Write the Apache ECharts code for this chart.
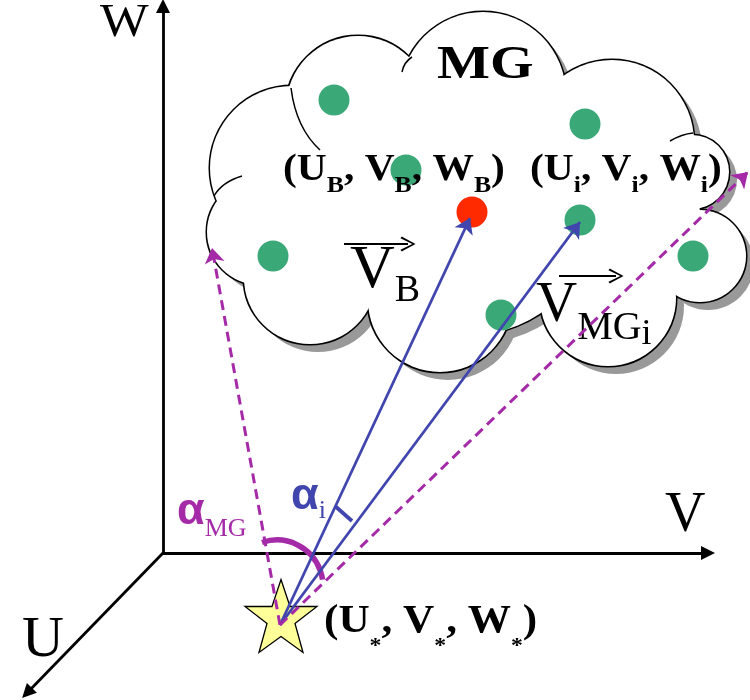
<!DOCTYPE html>
<html><head><meta charset="utf-8">
<script src="https://cdn.jsdelivr.net/npm/echarts@6/dist/echarts.min.js"></script>
<style>html,body{margin:0;padding:0;background:#fff}#c{width:750px;height:700px}</style>
</head><body><div id="c"></div>
<script>
// ---- diagram data (diagram units = pixels of the 750x700 picture, y downward) ----
const axisOrigin = [163, 553];
const axisEnds = [[163, 6], [708, 553], [27, 693]];           // W, V, U
const cloudBumps = [                                          // [cx, cy, r]
  [358,108,72],[483,95,83],[612,142,82],[692,172,37],[700,256,46],
  [608,298,68],[440,300,72],[310,278,66],[260,232,53],[292,168,82],
  [470,210,125],[600,215,100],[340,210,90]
];
const cloudStubs = [                                          // inner arc stubs: [x1,y1, cpx,cpy, x2,y2]
  [291,88, 296,128, 320,150],
  [214,196, 222,182, 242,176],
  [412,57, 404,62, 402,72],
  [693,133, 682,134, 670,141]
];
const memberPoints = [[334,100],[585,124],[406,170],[273,256],[580,220],[501,315],[693,256]];
const bestPoint = [[472,212]];
const userPoint = [[281,616]];
const rayOrigin = [280,625];
const vectorEnds = [[470,218],[580,222]];
const boundEnds = [[212,248],[748,172]];
const alphaMGArc = [[277,586,46,-109,-8]];                    // cx, cy, r, startDeg, endDeg
const alphaITick = [[335,506],[352,521]];
const overArrows = [[[344,244],[408,244]], [[559,276],[616,276]]];
// text anchors: [left x, baseline y]
const textAnchors = [[100,40],[665,535],[22,660],[437,82],[283,183],[530,183],[350,292],[536,325],[177,527],[291,512],[324,635]];

// ---- styles ----
const SERIF = '"Liberation Serif","Times New Roman",serif';
const SANS = '"Liberation Sans",Arial,sans-serif';
const MAGENTA = '#A52AA8', BLUE = '#4146AE', GREEN = '#3BA878', RED = '#FF2A00';

const textSpecs = [
  {sx:1.12, tokens:[{t:'W', s:46}]},
  {tokens:[{t:'V', s:56}]},
  {tokens:[{t:'U', s:58}]},
  {sx:1.22, tokens:[{t:'MG', s:46, w:'bold'}]},
  {sx:1.12, tokens:[{t:'(U',s:37,w:'bold'},{t:'B',s:23,w:'bold',d:11},{t:', V',s:37,w:'bold'},{t:'B',s:23,w:'bold',d:11},{t:', W',s:37,w:'bold'},{t:'B',s:23,w:'bold',d:11},{t:')',s:37,w:'bold'}]},
  {sx:1.12, tokens:[{t:'(U',s:37,w:'bold'},{t:'i',s:23,w:'bold',d:11},{t:', V',s:37,w:'bold'},{t:'i',s:23,w:'bold',d:11},{t:', W',s:37,w:'bold'},{t:'i',s:23,w:'bold',d:11},{t:')',s:37,w:'bold'}]},
  {tokens:[{t:'V',s:62},{t:'B',s:38,d:12}]},
  {tokens:[{t:'V',s:57},{t:'MG',s:40,d:17},{t:'i',s:36,d:22}]},
  {tokens:[{t:'α',s:45,w:'bold',f:SANS,c:MAGENTA},{t:'MG',s:26,d:11,c:MAGENTA}]},
  {tokens:[{t:'α',s:45,w:'bold',f:SANS,c:BLUE},{t:'i',s:26,d:8,c:BLUE}]},
  {sx:1.08, tokens:[{t:'(U',s:40,w:'bold'},{t:'*',s:22,w:'bold',d:19},{t:', V',s:40,w:'bold'},{t:'*',s:22,w:'bold',d:19},{t:', W',s:40,w:'bold'},{t:'*',s:22,w:'bold',d:19},{t:')',s:40,w:'bold'}]}
];

function buildRich(spec) {
  let B = 0;
  spec.tokens.forEach(k => { B = Math.max(B, 0.84 * k.s - (k.d || 0)); });
  const rich = {}; let text = '';
  spec.tokens.forEach((k, i) => {
    const p = B + (k.d || 0) - 0.84 * k.s;
    const col = k.c || '#000';
    rich['k' + i] = {fontSize:k.s, lineHeight:k.s, fontWeight:k.w || 'normal', fontFamily:k.f || SERIF,
      fill:col, color:col, verticalAlign:'top', padding:[p,0,0,0]};
    text += '{k' + i + '|' + k.t + '}';
  });
  return {text, rich, B};
}
const builtTexts = textSpecs.map(buildRich);

function circleSeries(offset, fill, stroke, lw) {
  return {
    type:'custom', coordinateSystem:'cartesian2d', clip:false, silent:true, z:2,
    data: cloudBumps,
    renderItem: (params, api) => {
      const c = api.coord([api.value(0), api.value(1)]);
      const r = api.size([api.value(2), 0])[0];
      return {type:'circle', shape:{cx:c[0] + offset, cy:c[1] + offset, r:r},
        style:{fill:fill, stroke:stroke, lineWidth:lw}};
    }
  };
}
const seg = (a, b) => ({coords:[a, b]});
const starPath = 'path://M36,0 L45,27 L72,27 L50,44 L58,73 L36,57 L14,73 L22,44 L0,27 L27,27 Z';
const chevron = 'path://M6,0 L12,12 L10.6,13 L6,2.8 L1.4,13 L0,12 Z';

const chart = echarts.init(document.getElementById('c'), null, {renderer:'canvas'});
chart.setOption({
  animation:false,
  backgroundColor:'#fff',
  grid:{left:0, right:0, top:0, bottom:0},
  xAxis:{type:'value', min:0, max:750, show:false},
  yAxis:{type:'value', min:0, max:700, inverse:true, show:false},
  series:[
    // axes
    {type:'lines', coordinateSystem:'cartesian2d', silent:true, z:1,
      symbol:['none','triangle'], symbolSize:14, symbolOffset:[0,7],
      lineStyle:{color:'#000', width:2.8, opacity:1},
      data: axisEnds.map(e => seg(axisOrigin, e))},
    // cloud: shadow, outline, fill
    circleSeries(8, '#999999', null, 0),
    circleSeries(0, '#fff', '#000', 3),
    circleSeries(0, '#fff', null, 0),
    {type:'custom', coordinateSystem:'cartesian2d', clip:false, silent:true, z:2,
      data: cloudStubs,
      renderItem: (params, api) => {
        const a = api.coord([api.value(0), api.value(1)]);
        const c = api.coord([api.value(2), api.value(3)]);
        const b = api.coord([api.value(4), api.value(5)]);
        return {type:'bezierCurve', shape:{x1:a[0], y1:a[1], cpx1:c[0], cpy1:c[1], x2:b[0], y2:b[1]},
          style:{stroke:'#000', lineWidth:1.5, fill:null}};
      }},
    // member points
    {type:'scatter', z:3, silent:true, symbol:'circle', symbolSize:31, itemStyle:{color:GREEN, opacity:1}, data:memberPoints},
    {type:'scatter', z:3, silent:true, symbol:'circle', symbolSize:31, itemStyle:{color:RED, opacity:1}, data:bestPoint},
    // star
    {type:'scatter', z:3, silent:true, symbol:starPath, symbolSize:[72,73],
      itemStyle:{color:'#FFFF99', borderColor:'#000', borderWidth:1.3, opacity:1}, data:userPoint},
    // texts
    {type:'custom', coordinateSystem:'cartesian2d', clip:false, silent:true, z:4,
      data: textAnchors,
      renderItem: (params, api) => {
        const i = params.dataIndex;
        const L = builtTexts[i];
        const pt = api.coord([api.value(0), api.value(1)]);
        return {type:'text', x:pt[0], y:pt[1] - L.B, scaleX:textSpecs[i].sx || 1, scaleY:1,
          style:{text:L.text, rich:L.rich, align:'left', verticalAlign:'top', textAlign:'left', textVerticalAlign:'top'}};
      }},
    // alpha MG arc
    {type:'custom', coordinateSystem:'cartesian2d', clip:false, silent:true, z:5,
      data: alphaMGArc,
      renderItem: (params, api) => {
        const c = api.coord([api.value(0), api.value(1)]);
        const r = api.size([api.value(2), 0])[0];
        return {type:'arc', shape:{cx:c[0], cy:c[1], r:r, startAngle:api.value(3) * Math.PI / 180,
          endAngle:api.value(4) * Math.PI / 180, clockwise:true},
          style:{stroke:MAGENTA, lineWidth:5.5, fill:null}};
      }},
    // alpha i tick
    {type:'lines', coordinateSystem:'cartesian2d', silent:true, z:5, symbol:'none',
      lineStyle:{color:BLUE, width:3.8, opacity:1}, data:[seg(alphaITick[0], alphaITick[1])]},
    // vectors to B and MG_i
    {type:'lines', coordinateSystem:'cartesian2d', silent:true, z:5,
      symbol:['none','arrow'], symbolSize:15, symbolOffset:[0,7],
      lineStyle:{color:BLUE, width:2.8, opacity:1},
      data: vectorEnds.map(e => seg(rayOrigin, e))},
    // dashed bounding rays
    {type:'lines', coordinateSystem:'cartesian2d', silent:true, z:5,
      symbol:['none','arrow'], symbolSize:15, symbolOffset:[0,7],
      lineStyle:{color:MAGENTA, width:3, type:[10,6], opacity:1},
      data: boundEnds.map(e => seg(rayOrigin, e))},
    // vector arrows over V
    {type:'lines', coordinateSystem:'cartesian2d', silent:true, z:5,
      symbol:['none', chevron], symbolSize:15, symbolOffset:[0,7],
      lineStyle:{color:'#000', width:1.8, opacity:1},
      data: overArrows.map(a => seg(a[0], a[1]))}
  ]
});
</script></body></html>
